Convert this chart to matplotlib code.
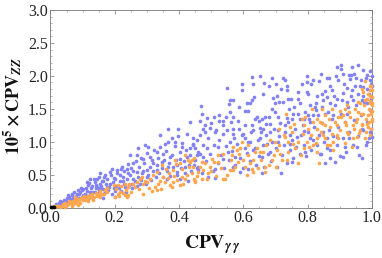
import matplotlib
matplotlib.use("Agg")
import matplotlib.pyplot as plt
from matplotlib.ticker import MultipleLocator

plt.rcParams["font.family"] = ["Liberation Serif", "DejaVu Serif"]
plt.rcParams["mathtext.fontset"] = "stix"

blue_x = [.467,.548,.595,.595,.626,.652,.629,.664,.688,.681,.702,.716,.730,.722,.735,.735,.660,.633,.626,.610,.619,.569,.558,.556,.585,.558,.605,.615,.546,.569,.525,.509,.486,.470,.538,.525,.465,.584,.641,.667,.647,.657,.670,.626,.688,.706,.691,.712,.698,.724,.740,.747,.771,.771,.797,.781,.797,.809,.818,.836,.841,.797,.859,.867,.887,.890,.903,.903,.938,.958,.973,.994,.911,.927,.935,.945,.984,.982,.965,.950,.932,.914,.895,.870,.875,.844,.854,.828,.802,.826,.807,.792,.776,.758,.743,.755,.776,.802,.823,.849,.859,.882,.890,.911,.921,.939,.947,.963,.973,.984,.958,.942,.921,.906,.870,.844,.833,.864,.880,.921,.973,.994,.999,.996,.968,.984,.818,.787,.808,.735,.709,.698,.683,.730,.750,.569,.496,.475,.434,.652,.662,
          .444,.455,.481,.512,.538,.569,.600,.631,.652,.683,.709,.745,.787,.807,.859,.890,.927,.973,.999,.465,.486,.522,.553,.538,.574,.590,.569,.512,.491,.475,.450,.460,.605,.636,.621,.673,.657,.615,.657,.716,.750,.854,.885,.909,.968,.838,.792,.709,.745,.683,.512,.870,.916,.952,.984,.994,.849,.766,.605,.558,
          .341,.367,.398,.377,.356,.387,.408,.444,.434,.294,.304,.273,.247,.268,.258,.289,.310,.330,.351,.372,.403,.424,.455,.320,.346,.367,.393,.419,.445,.460,.222,.237,.190,.185,.206,.154,.123,.113,.139,.164,.185,.216,.242,.268,.299,.330,.362,.393,.403,.429,.258,.284,.164,.154,.175,.097,.082,.066,.050,.035,.019,.107,.118,.144,.076,.056,.035,.045,.092,.123,.164,.196,.154,.139,.227,.201,.170,.144,.299,.279,.253,.232,.201,.066,.025,.097,.118]
blue_y = [1.535,1.81,1.88,1.79,1.98,2.0,1.88,1.89,1.96,1.85,1.88,1.80,1.93,1.97,1.84,1.78,1.73,1.68,1.63,1.58,1.59,1.64,1.64,1.57,1.52,1.45,1.47,1.46,1.38,1.37,1.41,1.37,1.36,1.42,1.32,1.32,1.32,1.32,1.37,1.37,1.31,1.35,1.27,1.26,1.50,1.69,1.66,1.60,1.59,1.60,1.65,1.65,1.65,1.75,1.75,1.88,1.91,1.88,1.93,1.92,2.03,1.99,1.96,1.97,1.99,2.13,2.16,2.11,2.14,2.16,2.09,2.07,2.03,2.02,2.02,2.03,2.01,1.97,1.93,1.96,1.95,1.88,1.93,1.85,1.79,1.73,1.77,1.70,1.73,1.58,1.55,1.45,1.58,1.53,1.50,1.42,1.35,1.40,1.52,1.64,1.68,1.70,1.65,1.74,1.82,1.78,1.85,1.85,1.83,1.80,1.73,1.63,1.60,1.63,1.58,1.52,1.40,1.45,1.40,1.42,1.70,1.93,2.0,1.88,1.63,1.58,1.40,1.35,1.30,1.36,1.37,1.45,1.27,1.25,1.35,1.20,1.21,1.20,1.30,1.21,1.20,
          .97,1.02,1.15,1.15,1.12,1.12,1.11,1.17,1.05,1.15,1.17,1.10,1.16,1.05,1.05,1.07,1.05,1.17,1.07,.82,.90,.92,.85,.74,.77,.54,.62,.59,.47,.77,.72,.62,.90,.90,1.0,.97,.77,.59,.52,.53,.69,.68,.69,.77,.75,.82,.85,1.0,.97,.85,.45,.87,.92,.92,1.0,1.15,1.15,1.07,1.05,1.0,
          1.10,1.2,1.2,1.05,.97,1.0,.92,1.05,.90,.95,.92,.90,.79,.79,.67,.74,.77,.85,.82,.77,.74,.77,.79,.67,.69,.62,.64,.62,.64,.57,.62,.59,.59,.54,.57,.52,.44,.39,.39,.41,.36,.49,.52,.54,.57,.57,.44,.54,.44,.41,.44,.52,.21,.29,.31,.26,.21,.19,.14,.09,.045,.21,.34,.31,.16,.16,.03,.08,.24,.24,.14,.29,.36,.24,.41,.44,.49,.44,.47,.36,.36,.31,.16,.11,.075,.16,.14]

# dense parts of the blue cloud, estimated by eye
blue_dense_x = [.012,.016,.022,.028,.031,.038,.042,.047,.052,.055,.06,.063,.068,.07,.073,.078,.08,.085,.088,.09,.094,.1,.102,.105,.11,.112,.115,.12,.122,.126,.13,.133,.136,.14,.142,.147,.15,.152,.156,.16,.162,.166,.17,.173,.177,.18,.183,.187,.19,.193,.197,.2,
                .205,.208,.212,.215,.218,.22,.224,.228,.23,.234,.238,.24,.244,.248,.25,.254,.258,.262,.265,.27,.272,.276,.28,.283,.288,.292,.296,.3,.304,.308,.312,.316,.32,.323,.327,.33,.335,.338,.342,.347,.35,.354,.358,.362,.366,.37,.373,.378,.382,.386,.39,.394,.398,.402,.406,.41,.414,.418,.422,.426,.43,.434,.438,.442,.446,.45,
                .455,.46,.465,.47,.475,.48,.485,.49,.495,.5,.505,.51,.515,.52,.525,.53,.535,.54,.545,.55,.555,.56,.565,.57,.575,.58,.585,.59,.595,.6,.605,.61,.615,.62,.625,.63,.635,.64,.645,.65,.655,.66,.665,.67,.675,.68,.685,.69,.695,.7,
                .705,.71,.715,.72,.725,.73,.735,.74,.745,.75,.755,.76,.765,.77,.775,.78,.785,.79,.795,.8,.805,.81,.815,.82,.825,.83,.835,.84,.845,.85,.855,.86,.865,.87,.875,.88,.885,.89,.895,.9,.905,.91,.915,.92,.925,.93,.935,.94,.945,.95,.955,.96,.965,.97,.975,.98,.985,.99,.995,.998,.996,.999,.992]
blue_dense_y = [.02,.05,.03,.06,.1,.05,.12,.1,.07,.19,.13,.09,.2,.15,.24,.13,.18,.27,.15,.2,.3,.19,.28,.14,.3,.18,.25,.37,.2,.29,.33,.23,.43,.29,.34,.22,.47,.27,.33,.4,.28,.46,.24,.36,.43,.26,.31,.5,.21,.38,.45,.25,
                .33,.52,.29,.4,.58,.25,.47,.36,.55,.24,.43,.66,.34,.5,.6,.29,.55,.4,.7,.33,.47,.62,.75,.42,.55,.68,.36,.83,.5,.62,.42,.72,.55,.88,.47,.65,.75,.52,.92,.6,.46,.72,.86,.55,1.0,.68,.48,.8,.62,.93,.72,.5,1.08,.84,.6,.98,.7,.53,.88,1.12,.65,.8,.56,.95,.72,.9,
                .6,.85,1.1,.52,.95,1.25,.7,1.05,.82,1.28,.56,.95,1.18,.68,1.03,.8,1.25,.6,.93,1.17,.72,1.3,.86,1.05,.64,.97,1.2,.75,1.1,.6,1.25,.83,1.0,.7,1.15,.88,1.35,.65,1.03,.78,1.15,.95,.62,1.1,.82,1.38,.7,1.0,1.2,.9,
                .62,1.08,1.28,.8,.95,1.15,.68,1.3,.88,1.02,.75,1.2,.92,1.42,.82,1.1,1.25,.95,.78,1.15,1.35,.88,1.02,1.22,1.48,.95,1.1,.82,1.28,1.0,1.42,.9,1.18,.75,1.35,1.08,1.55,.95,1.22,.78,1.42,1.05,1.3,.85,1.52,1.15,1.7,.95,1.33,1.55,1.08,.8,1.4,1.2,1.6,.95,1.3,1.72,1.48,1.2,1.65,1.85,1.05]

orange_x = [.439,.450,.460,.444,.475,.491,.486,.501,.507,.538,.543,.558,.569,.584,.579,.590,.605,.626,.631,.667,.667,.688,.652,.641,.662,.683,.698,.714,.735,.771,.836,.740,.787,.797,.828,.849,.870,.880,.937,.953,.978,.994,.963,.818,.730,.755,.522,.538,.470,.496,.564,.615,.615,.595,.631,.569,.704,.890,.921,
            .978,.994,.994,.989,.973,.999,.968,.978,.994,.963,.947,.958,.973,.989,.999,.921,.916,.901,.875,.844,.812,.781,.792,.828,.838,.854,.895,.911,.932,.952,.968,.984,.999,.942,.916,.890,.870,.854,.802,.828,.758,.745,.733,.712,.999,.999,
            .201,.211,.232,.237,.216,.196,.211,.232,.242,.258,.279,.289,.294,.289,.325,.330,.341,.351,.330,.346,.372,.377,.382,.403,.408,.419,.382,.403,.387,.419,.434,.445,.429,
            .009,.019,.030,.040,.050,.061,.071,.076,.087,.092,.102,.113,.123,.133,.144,.154,.159,.102,.084,.118,.066,.045,.175,.097,.076]
orange_y = [.72,.41,.54,.62,.57,.52,.44,.74,.69,.44,.44,.57,.57,.69,.87,.90,.62,.59,.54,.62,.54,.72,.85,.90,.85,1.02,1.0,.82,.72,.68,.68,1.0,.90,1.0,1.05,1.10,.95,1.0,.92,1.07,1.05,1.10,1.17,.95,1.07,.97,.69,.82,.69,.62,.79,.79,.95,1.0,.72,.92,.87,1.10,1.15,
            1.92,1.84,1.78,1.73,1.75,1.68,1.80,1.63,1.58,1.58,1.50,1.45,1.42,1.40,1.47,1.55,1.50,1.47,1.50,1.50,1.50,1.35,1.37,1.35,1.30,1.40,1.37,1.40,1.37,1.35,1.27,1.27,1.32,1.25,1.30,1.25,1.22,1.25,1.20,1.20,1.27,1.23,1.42,1.20,1.78,1.58,
            .16,.21,.19,.16,.24,.34,.34,.36,.31,.36,.44,.21,.41,.36,.31,.26,.41,.47,.54,.64,.34,.31,.39,.34,.47,.44,.57,.67,.72,.79,.69,.44,.72,
            .01,.025,.01,.06,.045,.075,.06,.11,.13,.075,.16,.15,.19,.11,.19,.16,.21,.11,.045,.10,.025,.01,.29,.14,.16]

orange_dense_x = [.015,.025,.035,.044,.055,.058,.065,.07,.075,.08,.085,.09,.095,.1,.105,.108,.112,.116,.12,.125,.128,.135,.14,.146,.15,.155,.165,.168,.175,
                  .205,.214,.22,.226,.235,.24,.245,.25,.262,.27,.275,.285,.3,.305,.31,.315,.32,.335,.345,.355,.36,.365,.37,.385,.39,.395,.41,.413,.425,.43,.44,.445,.448,
                  .455,.465,.47,.48,.5,.515,.52,.53,.55,.56,.575,.585,.6,.61,.62,.635,.645,.655,.67,.68,.695,
                  .7,.71,.72,.725,.74,.75,.76,.77,.78,.785,.79,.805,.81,.815,.825,.83,.84,.845,.855,.86,.865,.875,.88,.885,.895,.9,.905,.915,.92,.925,.93,.94,.945,.95,.955,.96,.965,.97,.975,.98,.982,.985,.988,.99,.992,.995,.997,.998,.999,.996,.994,.999,.998]
orange_dense_y = [.02,.03,.03,.07,.05,.1,.08,.1,.07,.09,.12,.1,.14,.13,.17,.12,.14,.18,.14,.16,.2,.16,.22,.17,.2,.25,.2,.27,.23,
                  .28,.18,.32,.22,.27,.19,.36,.24,.31,.38,.28,.46,.38,.3,.44,.25,.5,.36,.28,.38,.58,.45,.52,.48,.66,.42,.58,.36,.5,.62,.53,.75,.38,
                  .48,.62,.44,.68,.55,.48,.8,.6,.5,.72,.62,.82,.72,.5,.68,.85,.6,.72,.95,.65,.8,
                  .62,.95,.72,1.1,.85,1.15,.9,1.0,.8,1.12,1.25,.92,1.1,1.3,.98,.85,1.15,1.28,1.05,.95,1.35,1.12,.88,1.3,1.05,1.18,1.38,.98,1.25,1.12,1.45,1.05,1.2,1.3,1.6,1.13,1.42,1.25,1.55,1.15,1.35,1.65,1.22,1.5,1.3,1.7,1.42,1.85,1.55,1.2,1.62,1.35,1.45]

black_x = [.002, .006, .010]
black_y = [.004, .012, .006]

x_ticks = [0.0, 0.2, 0.4, 0.6, 0.8, 1.0]
y_ticks = [0.0, 0.5, 1.0, 1.5, 2.0, 2.5, 3.0]

fig = plt.figure(figsize=(3.82, 2.58), dpi=100)
ax = fig.add_axes([50.5 / 382, 1 - 207.5 / 258, 321.5 / 382, 197.5 / 258])
ax.scatter(blue_x + blue_dense_x, blue_y + blue_dense_y, s=7, color="#8282f5", linewidths=0, clip_on=False, zorder=3)
ax.scatter(orange_x + orange_dense_x, orange_y + orange_dense_y, s=7, color="#ffa64f", linewidths=0, clip_on=False, zorder=4)
ax.scatter(black_x, black_y, s=7, color="black", linewidths=0, clip_on=False, zorder=5)
ax.set_xlim(0, 1)
ax.set_ylim(0, 3)
ax.set_xticks(x_ticks)
ax.set_yticks(y_ticks)
ax.xaxis.set_minor_locator(MultipleLocator(0.05))
ax.yaxis.set_minor_locator(MultipleLocator(0.1))
ax.tick_params(which="major", direction="in", length=3.2, width=0.5, color="#777777",
               top=True, right=True, labelsize=11.5, pad=2, labelcolor="#222222")
ax.tick_params(which="minor", direction="in", length=1.7, width=0.5, color="#999999",
               top=True, right=True)
for s in ax.spines.values():
    s.set_linewidth(0.6)
    s.set_color("#777777")
ax.set_xticklabels(["0.0", "0.2", "0.4", "0.6", "0.8", "1.0"])
ax.set_yticklabels(["0.0", "0.5", "1.0", "1.5", "2.0", "2.5", "3.0"])
fig.text(212 / 382, 1 - 245 / 258, r"$\mathbf{CPV}_{\mathbfit{\gamma\,\gamma}}$", fontsize=14,
         ha="center", va="center", color="#111111")
fig.text(13 / 382, 1 - 106 / 258, r"$\mathbf{10^5 \times CPV}_{\mathbfit{ZZ}}$", fontsize=13,
         ha="center", va="center", rotation=90, color="#111111")
fig.savefig("out.png", dpi=100)
